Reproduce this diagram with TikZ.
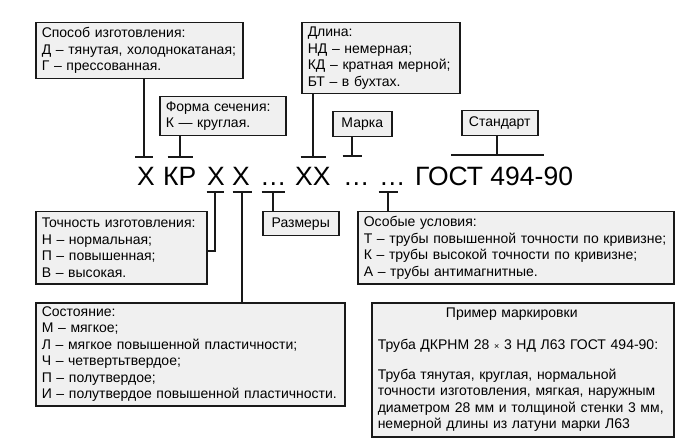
\documentclass[tikz,border=0pt]{standalone}
\usepackage{fontspec}
\setmainfont{Liberation Sans}
\begin{document}
\begin{tikzpicture}[x=1pt,y=-1pt,
  box/.style={draw=black!90, fill=black!6, line width=1.5pt, anchor=north west, inner xsep=6pt, inner ysep=2pt,
    font=\fontsize{14}{16.5}\selectfont},
  infobox/.style={box, align=left},
  smallbox/.style={box, align=center, inner xsep=0pt},
  code/.style={anchor=base west, inner sep=0pt, font=\fontsize{26.5}{30}\selectfont},
  stem/.style={line width=1.8pt, black!90},
  bar/.style={line width=2.8pt, black!90}]
\useasboundingbox (0,0) rectangle (685,446);

% code string
\node[code] (c1) at (137,186) {Х};
\node[code] (c2) at (163,186) {КР};
\node[code] (c3) at (207,186) {Х};
\node[code] (c4) at (232,186) {Х};
\node[code] (c5) at (260,186) {…};
\node[code] (c6) at (295,186) {ХХ};
\node[code] (c7) at (343,186) {…};
\node[code] (c8) at (379,186) {…};
\node[code] (c9) at (415,186) {ГОСТ 494-90};

% boxes
\node[infobox, text width=195pt, minimum height=56pt] (sposob) at (35,22)
  {\mbox{Способ изготовления:}\\\mbox{Д – тянутая, холоднокатаная;}\\\mbox{Г – прессованная.}};
\node[infobox, text width=114pt, minimum height=39pt] (forma) at (159,96)
  {\mbox{Форма сечения:}\\\mbox{К — круглая.}};
\node[infobox, text width=146pt, minimum height=71pt] (dlina) at (301,22)
  {\mbox{Длина:}\\\mbox{НД – немерная;}\\\mbox{КД – кратная мерной;}\\\mbox{БТ – в бухтах.}};
\node[smallbox, text width=59pt, minimum height=25pt] (marka) at (332,111) {Марка};
\node[smallbox, text width=76pt, minimum height=25pt] (standart) at (461,110) {Стандарт};
\node[infobox, text width=159pt, minimum height=72pt] (tochnost) at (35,211)
  {\mbox{Точность изготовления:}\\\mbox{Н – нормальная;}\\\mbox{П – повышенная;}\\\mbox{В – высокая.}};
\node[smallbox, text width=76pt, minimum height=24pt] (razmery) at (262,211) {Размеры};
\node[infobox, text width=304pt, minimum height=72pt] (osobye) at (357,211)
  {\mbox{Особые условия:}\\\mbox{Т – трубы повышенной точности по кривизне;}\\\mbox{К – трубы высокой точности по кривизне;}\\\mbox{А – трубы антимагнитные.}};
\node[infobox, text width=297pt, minimum height=103pt] (sostoyanie) at (35,302)
  {\mbox{Состояние:}\\\mbox{М – мягкое;}\\\mbox{Л – мягкое повышенной пластичности;}\\\mbox{Ч – четвертьтвердое;}\\\mbox{П – полутвердое;}\\\mbox{И – полутвердое повышенной пластичности.}};
\node[box, text width=290pt, minimum height=134pt] (primer) at (371,302)
  {\centering\hspace*{-22pt}Пример маркировки\par\vspace{16pt}
   \raggedright \mbox{Труба ДКРНМ 28 {\fontsize{9}{10}\selectfont×} 3 НД Л63 ГОСТ 494-90:}\par\vspace{13pt}
   \mbox{Труба тянутая, круглая, нормальной}\\\mbox{точности изготовления, мягкая, наружным}\\\mbox{диаметром 28 мм и толщиной стенки 3 мм,}\\\mbox{немерной длины из латуни марки Л63}\par};

% bar points
\coordinate (t1) at (144,157);
\coordinate (t2) at (180,157);
\coordinate (t6) at (313,157);
\coordinate (t7) at (352,156);
\coordinate (t9) at (497,155);
\coordinate (u3) at (215,192);
\coordinate (u4) at (242,192);
\coordinate (u5) at (273,192);
\coordinate (u8) at (388,192);

% upper T-bars
\draw[bar] ([xshift=-9]t1) -- ([xshift=9]t1);
\draw[bar] ([xshift=-12.5]t2) -- ([xshift=12.5]t2);
\draw[bar] ([xshift=-12.5]t6) -- ([xshift=12.5]t6);
\draw[bar] ([xshift=-9.5]t7) -- ([xshift=9.5]t7);
\draw[bar] ([xshift=-46]t9) -- ([xshift=47]t9);
\draw[stem] (sposob.south -| t1) -- (t1);
\draw[stem] (forma.south -| t2) -- (t2);
\draw[stem] (dlina.south -| t6) -- (t6);
\draw[stem] (marka.south -| t7) -- (t7);
\draw[stem] (standart.south -| t9) -- (t9);

% lower T-bars
\draw[bar] ([xshift=-8.5]u3) -- ([xshift=8.5]u3);
\draw[bar] ([xshift=-9.5]u4) -- ([xshift=9.5]u4);
\draw[bar] ([xshift=-11.5]u5) -- ([xshift=11.5]u5);
\draw[bar] ([xshift=-9.5]u8) -- ([xshift=9.5]u8);
\draw[stem] (u3) |- ([yshift=-3]tochnost.east);
\draw[stem] (u4) -- (u4 |- sostoyanie.north);
\draw[stem] (u5) -- (u5 |- razmery.north);
\draw[stem] (u8) -- (u8 |- osobye.north);
\end{tikzpicture}
\end{document}
